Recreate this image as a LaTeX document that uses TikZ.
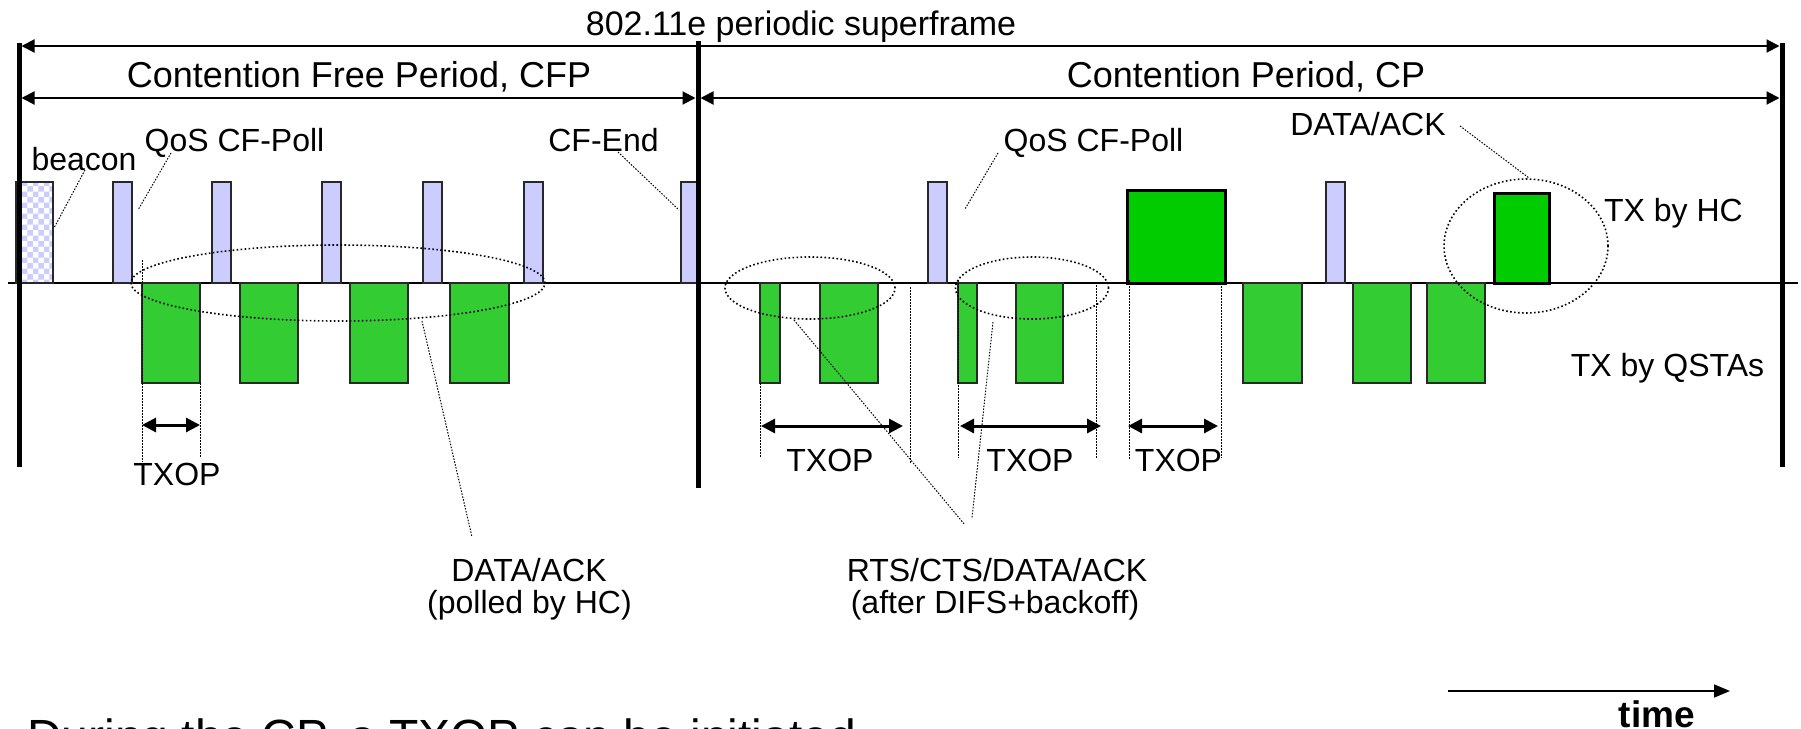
\documentclass[tikz,border=0pt]{standalone}
\usepackage{fontspec}
\setmainfont{Liberation Sans}
\usetikzlibrary{arrows.meta,shapes.geometric,patterns}
\definecolor{lav}{RGB}{204,204,255}
\definecolor{gsta}{RGB}{51,204,51}
\definecolor{ghc}{RGB}{0,204,0}
\definecolor{edge}{RGB}{40,40,40}
\tikzset{
  bigtxt/.style={font=\fontsize{36}{40}\selectfont, inner sep=0pt, anchor=base},
  titletxt/.style={font=\fontsize{34}{38}\selectfont, inner sep=0pt, anchor=base},
  lbl/.style={font=\fontsize{32}{36}\selectfont, inner sep=0pt, anchor=base},
  pollbar/.style={draw=edge, line width=1.5pt, fill=lav, inner sep=0pt, outer sep=0pt, anchor=south west, minimum height=101pt},
  beaconbox/.style={draw=edge, line width=1.5pt, pattern=checkerboard, pattern color=lav, inner sep=0pt, outer sep=0pt, anchor=south west, minimum height=101pt},
  stabox/.style={draw=edge, line width=2pt, fill=gsta, inner sep=0pt, outer sep=0pt, anchor=north west, minimum height=100pt},
  hcbox/.style={draw=black, line width=3pt, fill=ghc, inner sep=0pt, outer sep=0pt, anchor=south west},
  thickline/.style={line width=5pt},
  spanarrow/.style={line width=2pt, {Triangle[length=13pt,width=13pt]}-{Triangle[length=13pt,width=13pt]}},
  txoparrow/.style={line width=3pt, {Triangle[length=14pt,width=14pt]}-{Triangle[length=14pt,width=14pt]}},
  leader/.style={line width=1pt, dash pattern=on 1.5pt off 1.5pt},
  dimline/.style={line width=1pt, dash pattern=on 1.5pt off 1.5pt},
  dotellipse/.style={ellipse, draw, line width=1.6pt, dash pattern=on 1.6pt off 2.4pt, inner sep=0pt, outer sep=0pt},
}
\begin{document}
\begin{tikzpicture}[x=1pt,y=-1pt]
\useasboundingbox (0,0) rectangle (1801,728);
\fill[white] (0,0) rectangle (1801,728);

% time axis
\coordinate (axL) at (8,283);
\coordinate (axR) at (1798,283);
\draw[line width=2pt] (axL) -- (axR);

% HC transmissions (above axis)
\node[beaconbox, minimum width=37pt] (beacon) at (16,283) {};
\node[pollbar, minimum width=19pt] (p1) at (113,283) {};
\node[pollbar, minimum width=19pt] (p2) at (212,283) {};
\node[pollbar, minimum width=19pt] (p3) at (322,283) {};
\node[pollbar, minimum width=19pt] (p4) at (423,283) {};
\node[pollbar, minimum width=19pt] (p5) at (524,283) {};
\node[pollbar, minimum width=17pt] (cfend) at (681,283) {};
\node[pollbar, minimum width=19pt] (p6) at (928,283) {};
\node[pollbar, minimum width=19pt] (p7) at (1326,283) {};
\node[hcbox, minimum width=98pt, minimum height=93pt] (hc1) at (1127,283) {};
\node[hcbox, minimum width=55pt, minimum height=90pt] (hc2) at (1494,283) {};

% QSTA transmissions (below axis)
\node[stabox, minimum width=58pt] (g1) at (142,283) {};
\node[stabox, minimum width=58pt] (g2) at (240,283) {};
\node[stabox, minimum width=58pt] (g3) at (350,283) {};
\node[stabox, minimum width=59pt] (g4) at (450,283) {};
\node[stabox, minimum width=20pt] (g5) at (760,283) {};
\node[stabox, minimum width=58pt] (g6) at (820,283) {};
\node[stabox, minimum width=19pt] (g7) at (958,283) {};
\node[stabox, minimum width=47pt] (g8) at (1016,283) {};
\node[stabox, minimum width=59pt] (g9) at (1243,283) {};
\node[stabox, minimum width=58pt] (g10) at (1353,283) {};
\node[stabox, minimum width=58pt] (g11) at (1427,283) {};

% thick period boundaries
\coordinate (Lt) at (19,43);  \coordinate (Lb) at (19,467);
\coordinate (Mt) at (698,41); \coordinate (Mb) at (698,488);
\coordinate (Rt) at (1782,43); \coordinate (Rb) at (1782,467);
\draw[thickline] (Lt) -- (Lb);
\draw[thickline] (Mt) -- (Mb);
\draw[thickline] (Rt) -- (Rb);

% span arrows
\coordinate (sfL) at (21.5,46);  \coordinate (sfR) at (1779.5,46);
\coordinate (cfpL) at (21.5,98); \coordinate (cfpR) at (695.5,98);
\coordinate (cpL) at (700.5,98); \coordinate (cpR) at (1779.5,98);
\draw[spanarrow] (sfL) -- (sfR);
\draw[spanarrow] (cfpL) -- (cfpR);
\draw[spanarrow] (cpL) -- (cpR);

\node[titletxt] (tsf) at (801,35) {802.11e periodic superframe};
\node[bigtxt] (tcfp) at (359,87) {Contention Free Period, CFP};
\node[bigtxt] (tcp) at (1246,87) {Contention Period, CP};

% labels above
\node[lbl] (lbeacon) at (84,170) {beacon};
\node[lbl] (lpoll1) at (234.5,151) {QoS CF-Poll};
\node[lbl] (lcfend) at (603.5,151) {CF-End};
\node[lbl] (lpoll2) at (1093.5,151) {QoS CF-Poll};
\node[lbl] (ldack) at (1368,135) {DATA/ACK};
\node[lbl] (lhc) at (1673.5,221) {TX by HC};
\node[lbl] (lqsta) at (1667.5,376) {TX by QSTAs};

% leaders for upper labels
\coordinate (b1) at (85,170);   \coordinate (b2) at (54,228);
\coordinate (q1) at (171,153);  \coordinate (q2) at (138,210);
\coordinate (c1) at (618,152);  \coordinate (c2) at (679,210);
\coordinate (r1) at (998,153);  \coordinate (r2) at (965,209);
\coordinate (d1) at (1460,126); \coordinate (d2) at (1529,178);
\draw[leader] (b1) -- (b2);
\draw[leader] (q1) -- (q2);
\draw[leader] (c1) -- (c2);
\draw[leader] (r1) -- (r2);
\draw[leader] (d1) -- (d2);

% dotted ellipses
\node[dotellipse, minimum width=414pt, minimum height=76pt] (e0) at (338,283) {};
\node[dotellipse, minimum width=170pt, minimum height=62pt] (e1) at (810,288) {};
\node[dotellipse, minimum width=153pt, minimum height=62pt] (e2) at (1032,288) {};
\node[dotellipse, minimum width=164pt, minimum height=134pt] (e3) at (1526,246) {};

% TXOP extents
\coordinate (v1a) at (142,260);  \coordinate (v1b) at (142,462);
\coordinate (v2a) at (200,383);  \coordinate (v2b) at (200,458);
\coordinate (v3a) at (760,383);  \coordinate (v3b) at (760,458);
\coordinate (v4a) at (910,287);  \coordinate (v4b) at (910,463);
\coordinate (v5a) at (958,280);  \coordinate (v5b) at (958,458);
\coordinate (v6a) at (1096,282); \coordinate (v6b) at (1096,458);
\coordinate (v7a) at (1129,280); \coordinate (v7b) at (1129,460);
\coordinate (v8a) at (1221,283); \coordinate (v8b) at (1221,458);
\foreach \n in {1,...,8} {\draw[dimline] (v\n a) -- (v\n b);}

\coordinate (t1a) at (142,425);  \coordinate (t1b) at (200,425);
\coordinate (t2a) at (761,426);  \coordinate (t2b) at (903,426);
\coordinate (t3a) at (960,426);  \coordinate (t3b) at (1101,426);
\coordinate (t4a) at (1128,426); \coordinate (t4b) at (1218,426);
\draw[txoparrow] (t1a) -- (t1b);
\draw[txoparrow] (t2a) -- (t2b);
\draw[txoparrow] (t3a) -- (t3b);
\draw[txoparrow] (t4a) -- (t4b);
\node[lbl] (x1) at (177,485) {TXOP};
\node[lbl] (x2) at (830,471) {TXOP};
\node[lbl] (x3) at (1030,471) {TXOP};
\node[lbl] (x4) at (1178.5,471) {TXOP};

% lower labels and leaders
\node[lbl] (lpa) at (529,581) {DATA/ACK};
\node[lbl] (lpb) at (529.5,613) {(polled by HC)};
\node[lbl] (lra) at (997,581) {RTS/CTS/DATA/ACK};
\node[lbl] (lrb) at (995,613) {(after DIFS+backoff)};
\coordinate (pl1) at (422,321); \coordinate (pl2) at (472,537);
\coordinate (rl1) at (794,320); \coordinate (rl2) at (965,525);
\coordinate (rm1) at (993,322); \coordinate (rm2) at (972,518);
\draw[leader] (pl1) -- (pl2);
\draw[leader] (rl1) -- (rl2);
\draw[leader] (rm1) -- (rm2);

% time arrow
\coordinate (tmL) at (1448,691); \coordinate (tmR) at (1730,691);
\draw[line width=1.6pt, -{Triangle[length=16pt,width=13pt]}] (tmL) -- (tmR);
\node[font=\fontsize{37}{42}\selectfont\bfseries, inner sep=0pt, anchor=base] (ltime) at (1657,727) {time};

% partly visible bottom line
\begin{scope}
\clip (0,0) rectangle (1801,728);
\node[font=\fontsize{48}{52}\selectfont, inner sep=0pt, anchor=base west] (bottomtxt) at (27,753) {During the CP, a TXOP can be initiated};
\end{scope}
\end{tikzpicture}
\end{document}
